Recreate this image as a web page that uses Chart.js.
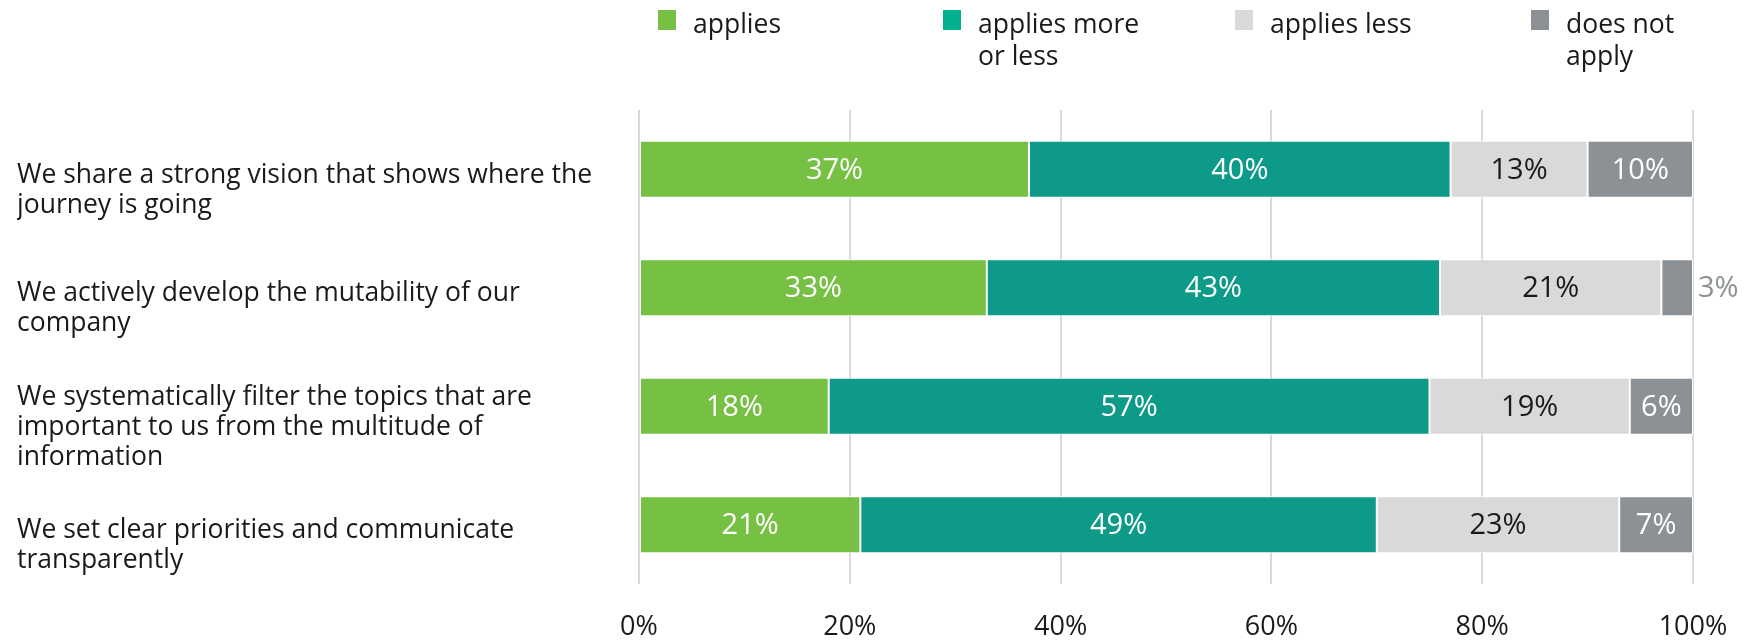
<!DOCTYPE html>
<html>
<head>
<meta charset="utf-8">
<script src="https://cdn.jsdelivr.net/npm/chart.js@4.4.1/dist/chart.umd.min.js"></script>
<style>
  html, body { margin: 0; padding: 0; background: #ffffff; }
  #wrap { width: 1758px; height: 640px; position: relative; }
</style>
</head>
<body>
<div id="wrap"><canvas id="chart" width="1758" height="640"></canvas></div>
<script>
// Statements (one bar each) and the share of answers per response level
const categories = [
  ['We share a strong vision that shows where the', 'journey is going'],
  ['We actively develop the mutability of our', 'company'],
  ['We systematically filter the topics that are', 'important to us from the multitude of', 'information'],
  ['We set clear priorities and communicate', 'transparently']
];
const seriesNames = ['applies', 'applies more or less', 'applies less', 'does not apply'];
const legendLines = [['applies'], ['applies more', 'or less'], ['applies less'], ['does not', 'apply']];
const applies         = [37, 33, 18, 21];
const appliesMoreLess = [40, 43, 57, 49];
const appliesLess     = [13, 21, 19, 23];
const doesNotApply    = [10, 3, 6, 7];
const xTicks = [0, 20, 40, 60, 80, 100];

const barColors    = ['#76c043', '#0e9a88', '#d9d9d9', '#8b9194'];
const legendColors = ['#76c043', '#00b08e', '#d9d9d9', '#8b9194'];
const labelColors  = ['#ffffff', '#ffffff', '#1a1a1a', '#ffffff'];
const FONT = '"Open Sans", "Noto Sans", sans-serif';

const values = [applies, appliesMoreLess, appliesLess, doesNotApply];

// Value labels inside each segment (or just right of it when it is too narrow)
const segmentLabels = {
  id: 'segmentLabels',
  afterDatasetsDraw(chart) {
    const ctx = chart.ctx;
    ctx.save();
    ctx.font = '29px ' + FONT;
    ctx.textBaseline = 'middle';
    chart.data.datasets.forEach((ds, di) => {
      const meta = chart.getDatasetMeta(di);
      meta.data.forEach((bar, i) => {
        const v = ds.data[i];
        const text = v + '%';
        const left = Math.min(bar.x, bar.base);
        const right = Math.max(bar.x, bar.base);
        const w = ctx.measureText(text).width;
        if (right - left >= w + 8) {
          ctx.fillStyle = labelColors[di];
          ctx.textAlign = 'center';
          ctx.fillText(text, (left + right) / 2, bar.y + 1);
        } else {
          ctx.fillStyle = barColors[di];
          ctx.textAlign = 'left';
          ctx.fillText(text, right + 5, bar.y + 1);
        }
      });
    });
    ctx.restore();
  }
};

// Legend in four fixed columns, with wrapped names
const columnLegend = {
  id: 'columnLegend',
  afterDraw(chart) {
    const ctx = chart.ctx;
    const xs = [658, 943, 1235, 1531];
    ctx.save();
    ctx.font = '26.5px ' + FONT;
    ctx.textAlign = 'left';
    ctx.textBaseline = 'alphabetic';
    legendLines.forEach((lines, i) => {
      ctx.fillStyle = legendColors[i];
      ctx.fillRect(xs[i], 10, 18, 20);
      ctx.fillStyle = '#1a1a1a';
      lines.forEach((ln, k) => ctx.fillText(ln, xs[i] + 35, 33 + k * 32));
    });
    ctx.restore();
  }
};

new Chart(document.getElementById('chart'), {
  type: 'bar',
  data: {
    labels: categories,
    datasets: seriesNames.map((name, i) => ({
      label: name,
      data: values[i],
      backgroundColor: barColors[i],
      borderColor: '#ffffff',
      borderWidth: 1,
      borderSkipped: false,
      barPercentage: 0.48,
      categoryPercentage: 1
    }))
  },
  options: {
    indexAxis: 'y',
    responsive: false,
    animation: false,
    layout: { padding: { top: 110, left: 17, right: 65, bottom: 0 } },
    plugins: {
      legend: { display: false },
      tooltip: { enabled: false }
    },
    scales: {
      x: {
        stacked: true,
        min: 0,
        max: 100,
        afterBuildTicks(scale) { scale.ticks = xTicks.map(v => ({ value: v })); },
        grid: { color: '#dadada', lineWidth: 2, drawTicks: false },
        border: { display: false },
        ticks: {
          padding: 27,
          color: '#1a1a1a',
          font: { family: FONT, size: 27 },
          callback: v => v + '%'
        },
        afterFit(scale) { scale.height = 56; }
      },
      y: {
        stacked: true,
        grid: { display: false, drawTicks: false },
        border: { display: false },
        ticks: {
          crossAlign: 'far',
          labelOffset: 21,
          color: '#1a1a1a',
          font: { family: FONT, size: 26.5, lineHeight: 1.135 }
        },
        afterFit(scale) { scale.width = 622; }
      }
    }
  },
  plugins: [segmentLabels, columnLegend]
});
</script>
</body>
</html>
